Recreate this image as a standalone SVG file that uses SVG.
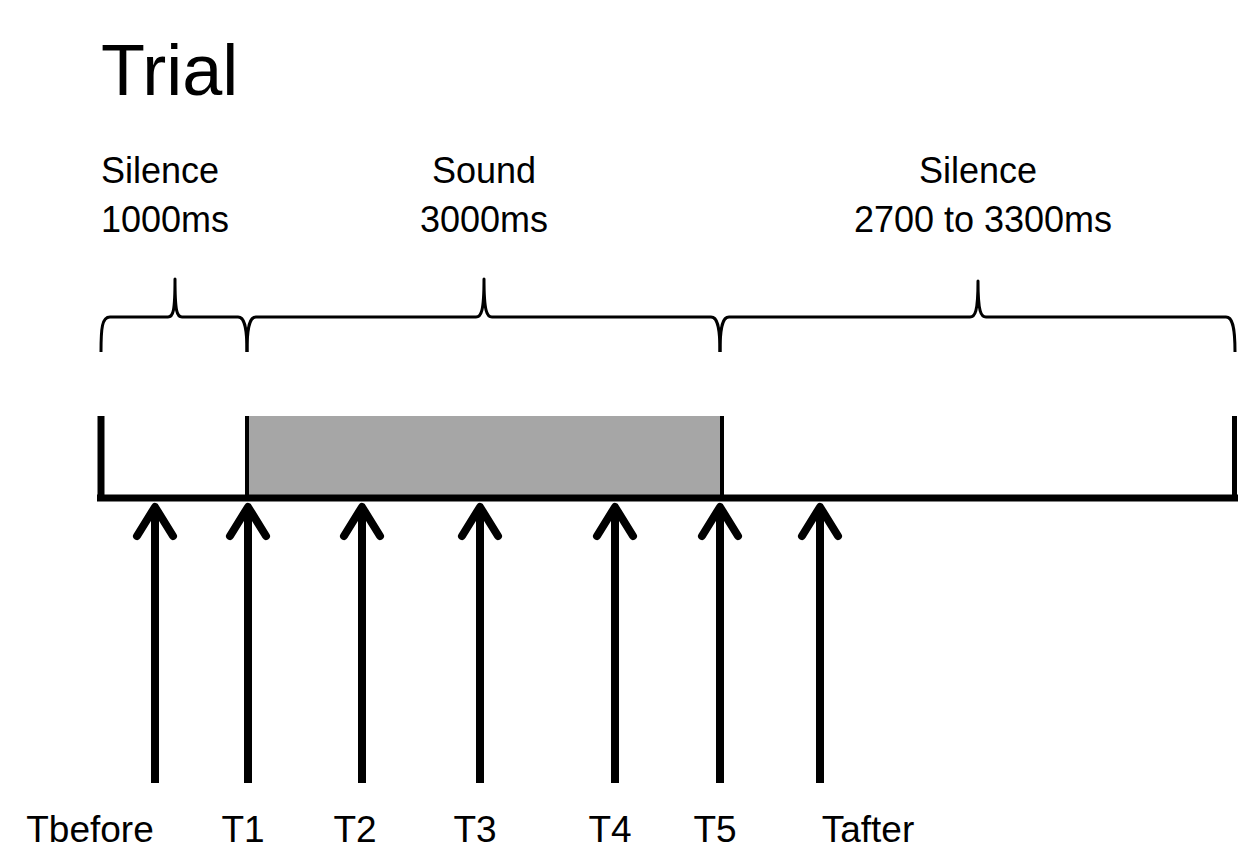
<svg xmlns="http://www.w3.org/2000/svg" width="1238" height="848" viewBox="0 0 1238 848">
<style>
text{font-family:"Liberation Sans",Arial,sans-serif;fill:#000}
.lbl{font-size:36px}
.bl{font-size:37px}
.brace{fill:none;stroke:#000;stroke-width:3;stroke-linejoin:round}
.arr{fill:none;stroke:#000;stroke-width:8;stroke-linecap:round;stroke-linejoin:round}
.shaft{stroke:#000;stroke-width:8}
</style>
<rect width="1238" height="848" fill="#fff"/>
<g id="title"><text x="101" y="95" font-size="72">Trial</text></g>
<g id="labels-top">
<text class="lbl" x="101" y="183">Silence</text>
<text class="lbl" x="101" y="232">1000ms</text>
<text class="lbl" x="484" y="183" text-anchor="middle">Sound</text>
<text class="lbl" x="484" y="232" text-anchor="middle">3000ms</text>
<text class="lbl" x="978" y="183" text-anchor="middle">Silence</text>
<text class="lbl" x="983" y="232" text-anchor="middle">2700 to 3300ms</text>
</g>
<g id="braces">
<path class="brace" d="M101,352 C101,328 102,317 110,317 L168,317 C173,317 175,312 175,279 C175,312 177,317 182,317 L238,317 C244,317 247,325 247,352"/>
<path class="brace" d="M247,352 C247,325 250,317 256,317 L476,317 C481,317 484,312 484,279 C484,312 487,317 492,317 L711,317 C717,317 720,325 720,352"/>
<path class="brace" d="M720,352 C720,325 723,317 729,317 L970,317 C975,317 978,312 978,281 C978,312 981,317 986,317 L1226,317 C1232,317 1235,325 1235,352"/>
</g>
<g id="timeline">
<rect x="247" y="416" width="475" height="79" fill="#a6a6a6"/>
<line x1="101" y1="416" x2="101" y2="501" stroke="#000" stroke-width="7"/>
<line x1="97" y1="498" x2="1238" y2="498" stroke="#000" stroke-width="7"/>
<line x1="247" y1="416" x2="247" y2="498" stroke="#000" stroke-width="4"/>
<line x1="722" y1="416" x2="722" y2="498" stroke="#000" stroke-width="4"/>
<line x1="1234.5" y1="416" x2="1234.5" y2="501" stroke="#000" stroke-width="5"/>
</g>
<g id="connectors">
<g id="arrow-tbefore"><line class="shaft" x1="155" y1="783" x2="155" y2="506"/><path class="arr" d="M137,536 L155,507 L173,536"/></g>
<g id="arrow-t1"><line class="shaft" x1="248" y1="783" x2="248" y2="506"/><path class="arr" d="M230,536 L248,507 L266,536"/></g>
<g id="arrow-t2"><line class="shaft" x1="362" y1="783" x2="362" y2="506"/><path class="arr" d="M344,536 L362,507 L380,536"/></g>
<g id="arrow-t3"><line class="shaft" x1="480" y1="783" x2="480" y2="506"/><path class="arr" d="M462,536 L480,507 L498,536"/></g>
<g id="arrow-t4"><line class="shaft" x1="615" y1="783" x2="615" y2="506"/><path class="arr" d="M597,536 L615,507 L633,536"/></g>
<g id="arrow-t5"><line class="shaft" x1="720" y1="783" x2="720" y2="506"/><path class="arr" d="M702,536 L720,507 L738,536"/></g>
<g id="arrow-tafter"><line class="shaft" x1="820" y1="783" x2="820" y2="506"/><path class="arr" d="M802,536 L820,507 L838,536"/></g>
</g>
<g id="labels-bottom">
<text class="bl" x="90" y="842" text-anchor="middle">Tbefore</text>
<text class="bl" x="243" y="842" text-anchor="middle">T1</text>
<text class="bl" x="355" y="842" text-anchor="middle">T2</text>
<text class="bl" x="475" y="842" text-anchor="middle">T3</text>
<text class="bl" x="610" y="842" text-anchor="middle">T4</text>
<text class="bl" x="715" y="842" text-anchor="middle">T5</text>
<text class="bl" x="868" y="842" text-anchor="middle">Tafter</text>
</g>
</svg>
